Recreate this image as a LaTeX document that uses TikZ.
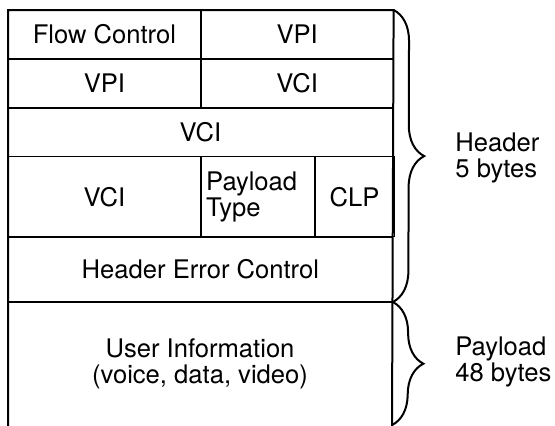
\documentclass[tikz,border=0pt]{standalone}
\usepackage{fontspec}
\setmainfont{TeX Gyre Heros}
\usepackage{tikz}
\usetikzlibrary{positioning,decorations.pathreplacing}

\begin{document}
\begin{tikzpicture}[x=0.5pt, y=-0.5pt,
  fld/.style={draw, line width=0.4pt, inner sep=0pt, align=center,
              minimum height=24pt, font=\fontsize{12.8}{12.8}\selectfont},
  lbl/.style={inner sep=0pt, align=left, anchor=west,
              font=\fontsize{12.8}{12.8}\selectfont},
  frame/.style={line width=1pt, line cap=rect},
  brc/.style={decorate, decoration={brace, amplitude=15.5pt}, line width=1pt}
]
  \useasboundingbox (0,0) rectangle (555,425);

  % header fields
  \node[fld, minimum width=96pt, anchor=north west] (fc) at (8,10) {Flow Control};
  \node[fld, minimum width=96pt, right=0pt of fc]   (vpia) {VPI};
  \node[fld, minimum width=96pt, below=0pt of fc]   (vpib) {VPI};
  \node[fld, minimum width=96pt, right=0pt of vpib] (vcia) {VCI};
  \node[fld, minimum width=192pt, anchor=north west] (vcib) at (vpib.south west) {VCI};
  \node[fld, minimum width=96pt, minimum height=40pt, anchor=north west]
    (vcic) at (vcib.south west) {VCI};
  \node[fld, minimum height=40pt, text width=51.5pt, inner xsep=2.5pt, align=left,
        right=0pt of vcic] (pt) {Payload\\Type};
  \node[fld, minimum width=39.5pt, minimum height=40pt, right=0pt of pt] (clp) {CLP};
  \node[fld, minimum width=192pt, minimum height=32pt, anchor=north west]
    (hec) at (vcic.south west) {Header Error Control};

  % payload field (open at the bottom)
  \coordinate (bl) at (8,425);
  \coordinate (br) at (392,425);
  \node[lbl, anchor=center, align=center] (usr) at (200,364)
    {User Information\\(voice, data, video)};

  % outer frame
  \draw[frame] (bl) -- (fc.north west) -- (vpia.north east) -- (br);
  \draw[frame] (hec.south west) -- (hec.south east);

  % braces on the right
  \draw[brc] (vpia.north east) -- (hec.south east);
  \draw[brc] (hec.south east) -- (br);
  \node[lbl] (hdr) at (455,158) {Header\\5 bytes};
  \node[lbl] (pay) at (455,362) {Payload\\48 bytes};
\end{tikzpicture}
\end{document}
